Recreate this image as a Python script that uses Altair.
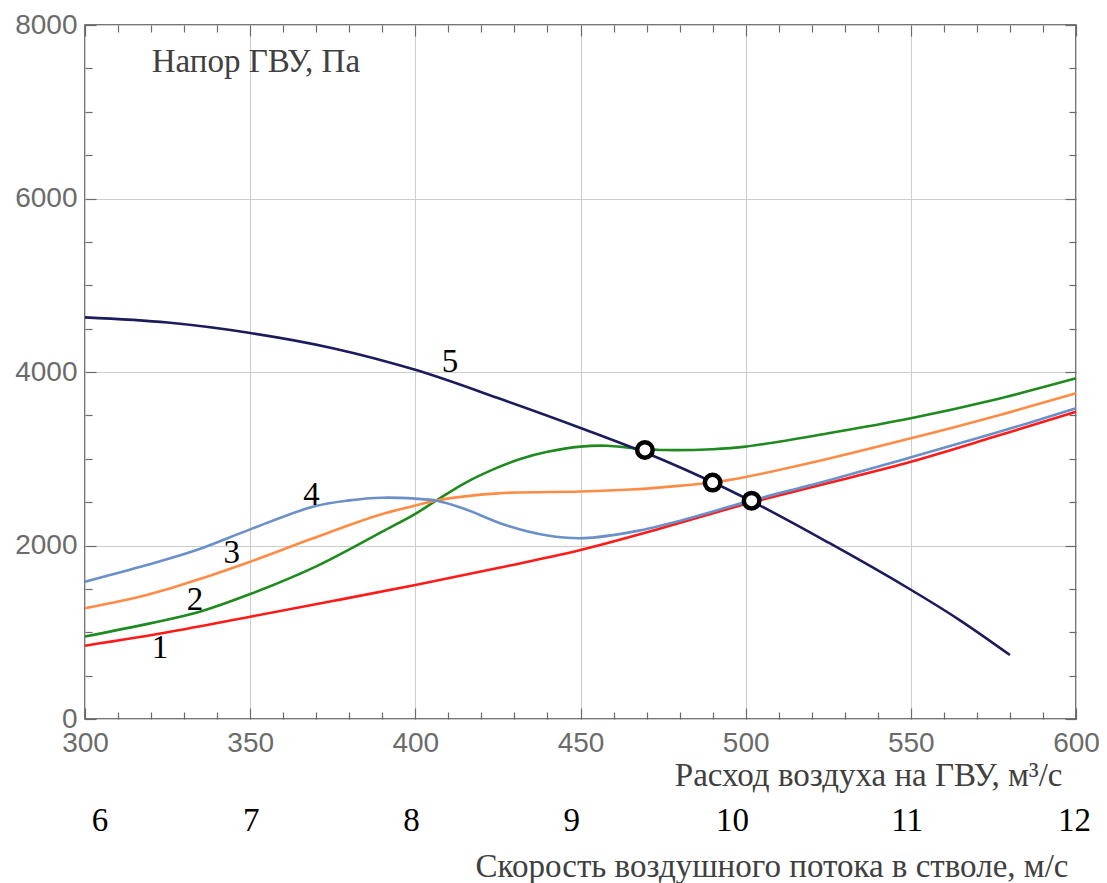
import altair as alt
import pandas as pd

# ---------------- data ----------------
curve_ids = ["1", "2", "3", "4", "5"]
curve_colors = ["#ff1a1a", "#1f8a1f", "#ff8c45", "#6b8fc9", "#1c1c5c"]

# 1 - red (network characteristic)
flow_1 = [300, 325, 350, 375, 400, 425, 450, 475, 500, 525, 550, 575, 600]
pa_1 = [845, 1000, 1179, 1360, 1545, 1740, 1948, 2205, 2478, 2720, 2966, 3250, 3543]

# 2 - green
flow_2 = [300, 320, 335, 350, 370, 390, 400, 406.5, 415, 425, 432, 440, 450, 458, 466, 476, 490, 500, 525, 550, 575, 600]
pa_2 = [950, 1105, 1240, 1440, 1760, 2160, 2365, 2522, 2720, 2900, 3000, 3080, 3140, 3150, 3122, 3100, 3110, 3140, 3293, 3466, 3677, 3927]

# 3 - orange
flow_3 = [300, 318.7, 333.8, 350, 369, 389, 400, 406.5, 425, 450, 465, 478, 490, 500, 525, 550, 575, 600]
pa_3 = [1276, 1429, 1602, 1813, 2083, 2352, 2460, 2520, 2601, 2622, 2645, 2682, 2727, 2790, 3000, 3235, 3485, 3754]

# 4 - blue
flow_4 = [300, 318.7, 333.8, 350, 369, 380, 390, 400, 406.5, 415, 427.7, 440, 451, 466, 481, 500, 525, 550, 575, 600]
pa_4 = [1583, 1775, 1948, 2186, 2447, 2520, 2551, 2540, 2515, 2420, 2230, 2115, 2085, 2160, 2294, 2500, 2750, 3016, 3290, 3581]

# 5 - navy (fan characteristic)
flow_5 = [300, 325, 350, 375, 400, 425, 450, 475, 500, 525, 550, 565, 580]
pa_5 = [4630, 4570, 4450, 4275, 4025, 3700, 3355, 2985, 2545, 2035, 1490, 1135, 738]

# operating points
op_flow = [469.5, 490.0, 501.8]
op_pa = [3101, 2725, 2517]

# curve number labels
label_text = ["1", "2", "3", "4", "5"]
label_flow = [322.7, 333.3, 344.4, 368.6, 410.5]
label_pa = [700, 1256, 1795, 2467, 4004]

# y-axis caption inside plot
y_caption = ["Напор ГВУ, Па"]
y_caption_flow = [320.2]
y_caption_pa = [7462]

# secondary scale: shaft air velocity
speed_labels = ["6", "7", "8", "9", "10", "11", "12"]
speed_flow = [304.4, 350.2, 398.7, 447.2, 495.9, 548.7, 599.4]

x_title = "Расход воздуха на ГВУ, м³/с"
speed_title = "Скорость воздушного потока в стволе, м/с"

major_x = [300, 350, 400, 450, 500, 550, 600]
minor_x = [v for v in range(300, 601, 10) if v % 50]
major_y = [0, 2000, 4000, 6000, 8000]
minor_y = [v for v in range(0, 8001, 500) if v % 2000]

# ---------------- tables ----------------
series = {"1": (flow_1, pa_1), "2": (flow_2, pa_2), "3": (flow_3, pa_3),
          "4": (flow_4, pa_4), "5": (flow_5, pa_5)}
rows = []
for cid in curve_ids:
    fl, pa = series[cid]
    for i, (f, p) in enumerate(zip(fl, pa)):
        rows.append({"curve": cid, "flow": f, "pa": p, "order": i})
df_lines = pd.DataFrame(rows)
df_op = pd.DataFrame({"flow": op_flow, "pa": op_pa})
df_lab = pd.DataFrame({"flow": label_flow, "pa": label_pa, "text": label_text})
df_cap = pd.DataFrame({"flow": y_caption_flow, "pa": y_caption_pa, "text": y_caption})

xs = alt.Scale(domain=[300, 600], nice=False, zero=False)
ys = alt.Scale(domain=[0, 8000], nice=False, zero=False)

TICK = "#6a6a6a"
LAB = "#6b6b6b"
SANS = "Liberation Sans"
SERIF = "Liberation Serif"
SERIF_SIZE = 33
SANS_SIZE = 28

ax_bottom_major = alt.Axis(
    orient="bottom", values=major_x, tickSize=11, offset=-11, domain=False,
    tickColor=TICK, tickWidth=1.2, labelFont=SANS, labelFontSize=SANS_SIZE, labelColor=LAB,
    labelPadding=32, labelBaseline="alphabetic", labelFlush=False, labelOverlap=False,
    format="d", grid=True, gridColor="#cdcdcd", gridWidth=1,
    title=x_title, titleFont=SERIF, titleFontSize=SERIF_SIZE, titleFontWeight="normal",
    titleColor="#404040", titleAlign="right", titleBaseline="alphabetic",
    titleX=977, titleY=77, titleAngle=0,
)
ax_left_major = alt.Axis(
    orient="left", values=major_y, tickSize=11, offset=-11, domain=False,
    tickColor=TICK, tickWidth=1.2, labelFont=SANS, labelFontSize=SANS_SIZE, labelColor=LAB,
    labelPadding=8, labelFlush=False, labelOverlap=False, format="d",
    grid=True, gridColor="#cdcdcd", gridWidth=1, title=None,
)
def tick_axis(orient, vals, size):
    return alt.Axis(orient=orient, values=vals, tickSize=size, offset=-size,
                    domain=False, labels=False, grid=False, title=None,
                    tickColor=TICK, tickWidth=1.2)

speed_expr = "[" + ",".join("'%s'" % s for s in speed_labels) + "][indexof([" + \
    ",".join(str(v) for v in speed_flow) + "], datum.value)]"
ax_speed = alt.Axis(
    orient="bottom", values=speed_flow, labelExpr=speed_expr, ticks=False, tickSize=0,
    domain=False, grid=False, labelFont=SERIF, labelFontSize=SERIF_SIZE, labelColor="black",
    labelPadding=111, labelBaseline="alphabetic", labelFlush=False, labelOverlap=False,
    offset=0, title=speed_title, titleFont=SERIF, titleFontSize=SERIF_SIZE,
    titleFontWeight="normal", titleColor="#404040", titleAlign="right",
    titleBaseline="alphabetic", titleX=983, titleY=157, titleAngle=0,
)

lines = alt.Chart(df_lines).mark_line(strokeWidth=2.6, interpolate="catmull-rom").encode(
    x=alt.X("flow:Q", scale=xs, axis=ax_bottom_major),
    y=alt.Y("pa:Q", scale=ys, axis=ax_left_major),
    color=alt.Color("curve:N", scale=alt.Scale(domain=curve_ids, range=curve_colors), legend=None),
    order="order:Q",
)

points = alt.Chart(df_op).mark_point(shape="circle", filled=True, fill="white", stroke="black",
                                     strokeWidth=4.5, size=240, opacity=1).encode(
    x=alt.X("flow:Q", scale=xs, axis=tick_axis("bottom", minor_x, 7)),
    y=alt.Y("pa:Q", scale=ys, axis=tick_axis("left", minor_y, 7)),
)

labels = alt.Chart(df_lab).mark_text(font=SERIF, fontSize=SERIF_SIZE, color="black",
                                     align="center", baseline="alphabetic").encode(
    x=alt.X("flow:Q", scale=xs, axis=tick_axis("top", major_x, 11)),
    y=alt.Y("pa:Q", scale=ys, axis=tick_axis("right", major_y, 11)),
    text="text:N",
)

caption = alt.Chart(df_cap).mark_text(font=SERIF, fontSize=SERIF_SIZE, color="#404040",
                                      align="left", baseline="alphabetic").encode(
    x=alt.X("flow:Q", scale=xs, axis=tick_axis("top", minor_x, 7)),
    y=alt.Y("pa:Q", scale=ys, axis=tick_axis("right", minor_y, 7)),
    text="text:N",
)

speed = alt.Chart(df_op).mark_point(opacity=0).encode(
    x=alt.X("flow:Q", scale=xs, axis=ax_speed),
    y=alt.Y("pa:Q", scale=ys, axis=None),
)

chart = alt.layer(lines, points, labels, caption, speed).resolve_axis(
    x="independent", y="independent"
).properties(
    width=991, height=694,
    autosize=alt.AutoSizeParams(type="none"),
    padding={"left": 77, "top": 17, "right": 23, "bottom": 168},
    background="white",
).configure_view(stroke="#4a4a4a", strokeWidth=1.5)

chart.save("out.html", embed_options={"renderer": "svg", "actions": False})
